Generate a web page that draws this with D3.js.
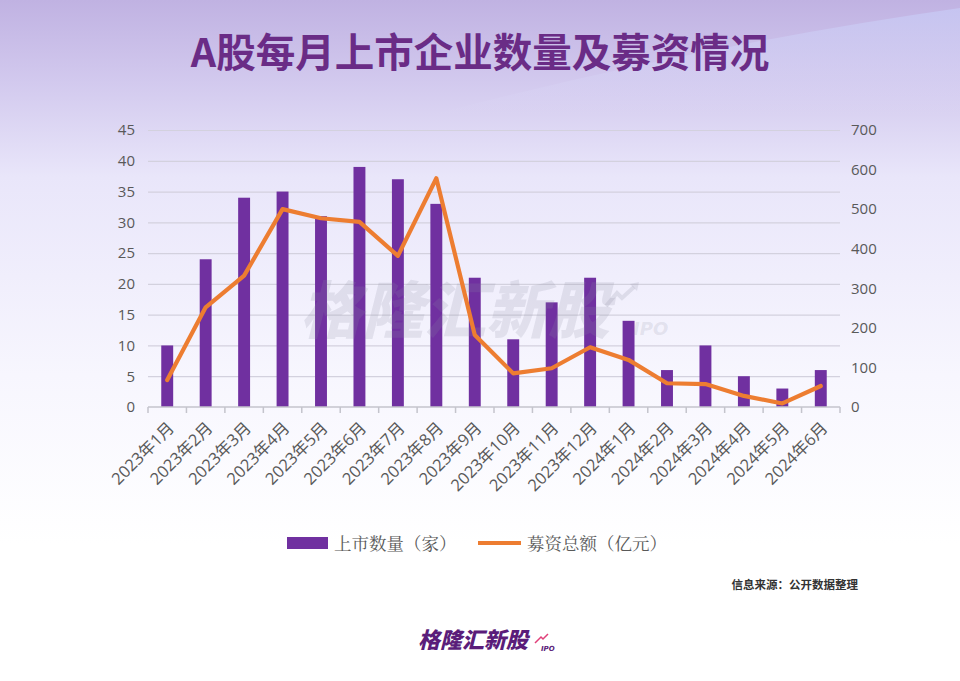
<!DOCTYPE html>
<html><head><meta charset="utf-8">
<script src="https://cdn.jsdelivr.net/npm/d3@7"></script>
<style>body{margin:0;background:#fff}svg{display:block}</style>
</head><body><svg id="c" width="960" height="681"></svg>
<script>
const categories = ["2023年1月","2023年2月","2023年3月","2023年4月","2023年5月","2023年6月","2023年7月","2023年8月","2023年9月","2023年10月","2023年11月","2023年12月","2024年1月","2024年2月","2024年3月","2024年4月","2024年5月","2024年6月"];
const listings = [10,24,34,35,31,39,37,33,21,11,17,21,14,6,10,5,3,6];
const funds = [68,252,332,500,477,468,382,578,182,85,98,151,119,60,58,28,9,53];
const leftTicks = [0,5,10,15,20,25,30,35,40,45];
const rightTicks = [0,100,200,300,400,500,600,700];
const title = "A股每月上市企业数量及募资情况";
const legendLabels = ["上市数量（家）","募资总额（亿元）"];

const svg = d3.select("#c");
const defs = svg.append("defs");
const g1 = defs.append("linearGradient").attr("id","bg").attr("x1",0).attr("y1",0).attr("x2",0).attr("y2",1);
g1.append("stop").attr("offset","0").attr("stop-color","#c0b2e2");
g1.append("stop").attr("offset","0.12").attr("stop-color","#d2c9ee");
g1.append("stop").attr("offset","0.26").attr("stop-color","#e9e6fa");
g1.append("stop").attr("offset","0.55").attr("stop-color","#f7f6fe");
g1.append("stop").attr("offset","0.8").attr("stop-color","#ffffff");
g1.append("stop").attr("offset","1").attr("stop-color","#ffffff");
svg.append("rect").attr("width",960).attr("height",681).attr("fill","url(#bg)");
const g2 = defs.append("linearGradient").attr("id","band").attr("x1",0).attr("y1",0).attr("x2",0).attr("y2",1);
g2.append("stop").attr("offset","0").attr("stop-color","#c6c6f2").attr("stop-opacity",0.9);
g2.append("stop").attr("offset","1").attr("stop-color","#e2e0fa").attr("stop-opacity",0);
svg.append("path").attr("d","M960,8 L960,115 L430,115 Q700,45 960,8 Z").attr("fill","url(#band)");

svg.append("text").attr("x",480).attr("y",67).attr("text-anchor","middle")
  .attr("font-family","'Noto Sans CJK SC'").attr("font-weight",700).attr("font-size",39.5)
  .attr("fill","#6a2c86").text(title);

const x0 = 148, x1 = 840, yTop = 130, yBot = 407;
const x = d3.scaleBand().domain(categories).range([x0,x1]).paddingInner(0.69).paddingOuter(0.345);
const xb = d3.scaleBand().domain(categories).range([x0,x1]);
const yL = d3.scaleLinear().domain([0,45]).range([yBot,yTop]);
const yR = d3.scaleLinear().domain([0,700]).range([yBot,yTop]);

// grid
svg.append("g").selectAll("line").data(leftTicks.slice(1)).join("line")
  .attr("x1",x0).attr("x2",x1).attr("y1",d=>yL(d)+0.5).attr("y2",d=>yL(d)+0.5)
  .attr("stroke","#d3d1de").attr("stroke-width",1.2);

// bars
svg.append("g").selectAll("rect").data(listings).join("rect")
  .attr("x",(d,i)=>x(categories[i])).attr("width",x.bandwidth())
  .attr("y",d=>yL(d)).attr("height",d=>yBot-yL(d)).attr("fill","#7030a0");

// watermark (over bars)
const wm = svg.append("g").attr("fill","#8c8ca0").attr("fill-opacity",0.18);
wm.append("text").attr("x",300).attr("y",333).attr("font-size",62).attr("font-style","italic")
  .attr("font-family","'Noto Sans CJK SC'").attr("font-weight",900).text("格隆汇新股");
wm.append("text").attr("x",633).attr("y",335).attr("font-size",18).attr("font-style","italic").attr("font-family","'DejaVu Sans'").attr("font-weight",700).text("IPO");
wm.append("path").attr("d","M606,306 L617,293 L622,298 L634,287").attr("stroke","#8c8ca0").attr("stroke-opacity",0.2).attr("stroke-width",4).attr("fill","none");
wm.append("path").attr("d","M630,284 L639,282 L637,291 Z");

// x axis
const xAxis = svg.append("g").attr("transform",`translate(0,${yBot})`);
xAxis.append("line").attr("x1",x0).attr("x2",x1).attr("stroke","#c4c4cc").attr("stroke-width",1.5);
xAxis.selectAll("line.t").data(d3.range(categories.length+1)).join("line").attr("class","t")
  .attr("x1",i=>x0+i*xb.step()).attr("x2",i=>x0+i*xb.step()).attr("y1",0).attr("y2",6)
  .attr("stroke","#c4c4cc").attr("stroke-width",1.5);
xAxis.selectAll("text").data(categories).join("text")
  .attr("text-anchor","end").attr("font-family","'Open Sans','Noto Sans CJK SC'").attr("font-size",16.5).attr("fill","#595959")
  .attr("transform",d=>`translate(${xb(d)+xb.bandwidth()/2+8},${22}) rotate(-45)`).text(d=>d);

// left axis labels
const la = d3.axisLeft(yL).tickValues(leftTicks).tickSize(0).tickPadding(0);
svg.append("g").attr("transform",`translate(135,0)`).call(la)
  .call(g=>g.select(".domain").remove())
  .selectAll("text").attr("font-family","'Open Sans'").attr("font-size",15).attr("fill","#595959");
const ra = d3.axisRight(yR).tickValues(rightTicks).tickSize(0).tickPadding(0);
svg.append("g").attr("transform",`translate(851,0)`).call(ra)
  .call(g=>g.select(".domain").remove())
  .selectAll("text").attr("font-family","'Open Sans'").attr("font-size",15).attr("fill","#595959");

// line
const line = d3.line().x((d,i)=>xb(categories[i])+xb.bandwidth()/2).y(d=>yR(d));
svg.append("path").datum(funds).attr("d",line).attr("fill","none").attr("stroke","#ed7d31")
  .attr("stroke-width",4.2).attr("stroke-linejoin","round").attr("stroke-linecap","round");

// legend
const lg = svg.append("g").attr("font-family","'Noto Serif CJK SC','Noto Sans CJK SC'").attr("font-size",17.5).attr("fill","#595959");
lg.append("rect").attr("x",287).attr("y",537).attr("width",41).attr("height",12).attr("fill","#7030a0");
lg.append("text").attr("x",334).attr("y",550).text(legendLabels[0]);
lg.append("line").attr("x1",478).attr("x2",521).attr("y1",543).attr("y2",543).attr("stroke","#ed7d31").attr("stroke-width",4);
lg.append("text").attr("x",527).attr("y",550).text(legendLabels[1]);

svg.append("text").attr("x",858).attr("y",589).attr("text-anchor","end")
  .attr("font-family","'Noto Sans CJK SC'").attr("font-weight",700).attr("font-size",11.5).attr("fill","#333").text("信息来源：公开数据整理");

// bottom logo
const lo = svg.append("g");
lo.append("text").attr("x",418).attr("y",648).attr("font-family","'Noto Sans CJK SC'").attr("font-weight",900).attr("font-style","italic")
  .attr("font-size",22).attr("fill","#5a1d7a").text("格隆汇新股");
lo.append("text").attr("x",541).attr("y",651).attr("font-family","'DejaVu Sans'").attr("font-weight",700).attr("font-style","italic")
  .attr("font-size",7).attr("fill","#5a1d7a").text("IPO");
lo.append("path").attr("d","M535,643 L541,637 L543,639 L548,634").attr("stroke","#e0407a").attr("stroke-width",1.5).attr("fill","none");
</script></body></html>
